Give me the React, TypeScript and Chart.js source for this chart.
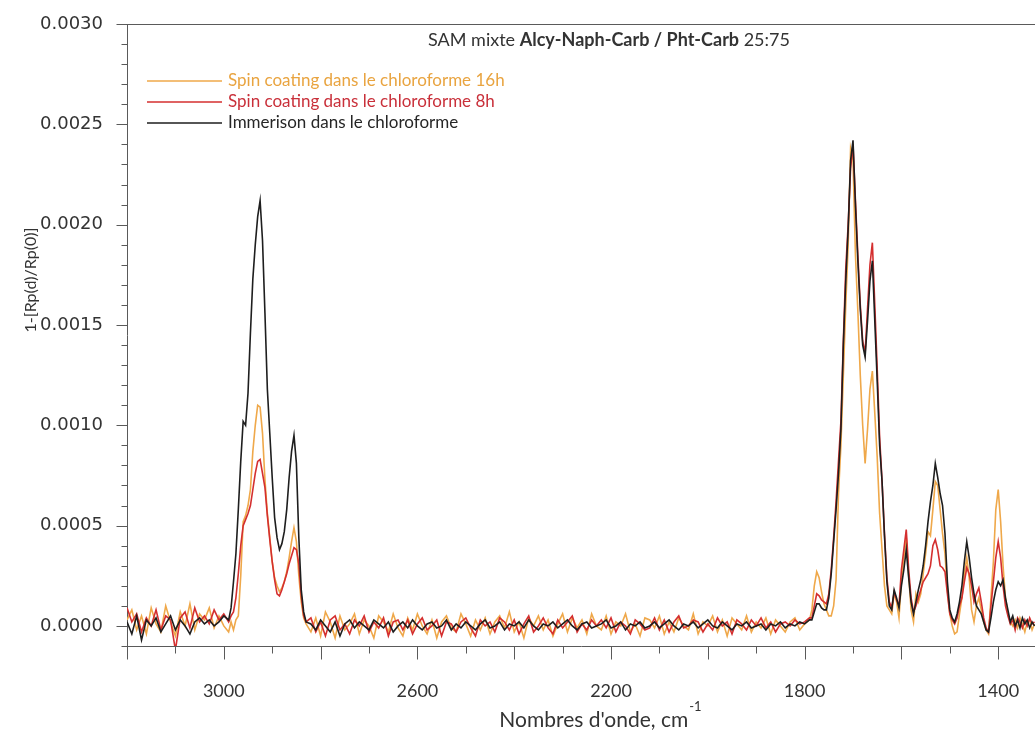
import React, { useEffect, useRef } from "react";
import { Chart, registerables } from "chart.js";

Chart.register(...registerables);

// Wavenumbers (cm-1), shared sampling grid for the three spectra
const wavenumbers = [
  3200, 3190, 3180, 3170, 3160, 3150, 3140, 3130, 3120, 3110, 3100, 3090, 3080, 3070, 3060, 3050, 3040, 3030, 3020, 3010, 3000, 2990,
  2985, 2980, 2975, 2970, 2965, 2960, 2955, 2950, 2945, 2940, 2935, 2930, 2925, 2920, 2915, 2910, 2905, 2900, 2895, 2890,
  2885, 2880, 2875, 2870, 2865, 2860, 2855, 2850, 2845, 2840, 2835, 2830,
  2820, 2810, 2800, 2790, 2780, 2770, 2760, 2750, 2740, 2730,
  2720, 2710, 2700, 2690, 2680, 2670, 2660, 2650, 2640, 2630,
  2620, 2610, 2600, 2590, 2580, 2570, 2560, 2550, 2540, 2530,
  2520, 2510, 2500, 2490, 2480, 2470, 2460, 2450, 2440, 2430,
  2420, 2410, 2400, 2390, 2380, 2370, 2360, 2350, 2340, 2330,
  2320, 2310, 2300, 2290, 2280, 2270, 2260, 2250, 2240, 2230,
  2220, 2210, 2200, 2190, 2180, 2170, 2160, 2150, 2140, 2130,
  2120, 2110, 2100, 2090, 2080, 2070, 2060, 2050, 2040, 2030,
  2020, 2010, 2000, 1990, 1980, 1970, 1960, 1950, 1940, 1930,
  1920, 1910, 1900, 1890, 1880, 1870, 1860, 1850, 1840, 1830,
  1820, 1810, 1800, 1790,
  1785, 1780, 1775, 1770, 1765, 1760, 1755, 1750, 1745, 1740,
  1735, 1730, 1725, 1720, 1715, 1710, 1705, 1700, 1695, 1690,
  1685, 1680, 1675, 1670, 1665, 1660, 1655, 1650, 1645, 1640,
  1635, 1630, 1625, 1620, 1615, 1610, 1605, 1600,
  1595, 1590, 1585, 1580, 1575, 1570, 1565, 1560, 1555, 1550,
  1545, 1540, 1535, 1530, 1525, 1520, 1515, 1510, 1505, 1500,
  1495, 1490, 1485, 1480, 1475, 1470, 1465, 1460, 1455, 1450,
  1445, 1440, 1435, 1430, 1425, 1420, 1415, 1410, 1405, 1400,
  1395, 1390, 1385, 1380, 1375, 1370, 1365, 1360, 1355, 1350,
  1345, 1340, 1335, 1330, 1325,
];

// Values in units of 1e-5 (quantity 1-[Rp(d)/Rp(0)])
const VALUE_UNIT = 1e-5;

const spin16h = [
  3, 8, -2, 5, -4, 9, 1, -3, 10, 2, -5, 7, 0, 11, -2, 6, 3, 9, -1, 5, 0, -3,
  2, -2, 3, 5, 25, 52, 55, 60, 68, 87, 100, 110, 109, 96, 73, 56, 44, 32, 24, 20,
  17, 19, 22, 27, 34, 42, 49, 42, 25, 12, 4, 1,
  -3, 4, -5, 7, 2, -6, 5, -2, 1, 6,
  -4, 3, 0, -6, 5, 2, -3, 6, -1, -5,
  4, -2, 6, 0, -4, 3, -6, 2, 5, -1,
  -3, 6, 1, -5, 3, -2, 4, -4, 2, 5,
  -1, 7, -3, 2, -6, 4, 0, 5, -2, 3,
  -5, 1, 6, -3, 4, -1, 3, -4, 6, 0,
  -2, 5, -4, 2, 0, 6, -3, 1, -5, 4,
  3, -1, 5, -4, 2, -3, 4, 0, -2, 6,
  -4, 2, 0, 5, -3, 3, -5, 4, 1, -2,
  5, -3, 2, -1, 4, -4, 3, 0, -3, 2,
  4, -2, 1, 3,
  8, 20, 27, 24, 17, 11, 8, 5, 5, 10,
  23, 66, 90, 125, 160, 190, 238, 232, 185, 157,
  125, 100, 81, 98, 118, 127, 106, 84, 56, 38,
  20, 10, 8, 6, 16, 12, 4, 22,
  34, 44, 25, 8, 2, 16, 12, 16, 26, 36,
  47, 45, 58, 72, 70, 58, 46, 36, 18, 6,
  0, -4, -3, 6, 14, 26, 34, 24, 8, 2,
  10, 14, 8, 2, -2, -4, 14, 32, 58, 68,
  52, 30, 14, 6, 2, 0, 3, -1, 4, 1,
  -3, 2, 3, -2, 1,
];

const spin8h = [
  9, 2, 6, -3, 4, 0, 8, -2, 5, 3, -12, 4, 7, -1, 9, 2, 5, 1, 8, 3, 6, 2,
  5, 7, 14, 26, 40, 50, 53, 56, 60, 68, 76, 82, 83, 76, 69, 55, 43, 32, 23, 16,
  15, 18, 22, 26, 31, 35, 39, 38, 31, 15, 5, 2,
  4, -3, 2, -5, 3, 5, -2, 1, -4, 3,
  0, 5, -3, 2, -1, 4, -5, 2, 3, -2,
  3, -4, 1, 4, -2, 0, 3, -5, 2, 1,
  -3, 2, 4, -1, -5, 3, 0, 2, -3, 4,
  2, -2, 3, -4, 1, 5, -3, 0, 4, -1,
  -4, 3, -1, 2, 5, -3, 1, -2, 3, 0,
  3, -1, 4, -3, 2, 0, -4, 3, 1, -2,
  -1, 4, -2, 3, -3, 2, 5, -1, 0, 3,
  2, -3, 1, -2, 4, 0, 2, -4, 3, 1,
  -2, 3, 0, 4, -1, 2, -3, 1, 2, 0,
  3, 1, 2, 4,
  4, 10, 16, 15, 13, 12, 11, 16, 28, 44,
  62, 82, 102, 142, 178, 200, 228, 240, 212, 185,
  160, 142, 136, 158, 180, 191, 160, 128, 94, 72,
  46, 24, 12, 9, 17, 13, 10, 28,
  38, 48, 28, 14, 7, 10, 14, 18, 22, 24,
  26, 30, 40, 43, 38, 30, 29, 27, 16, 6,
  3, 1, 4, 10, 14, 22, 29, 26, 20, 12,
  16, 19, 12, 4, -1, -3, 10, 22, 34, 42,
  34, 20, 10, 5, 1, 3, -2, 4, 2, -1,
  3, 0, 4, 1, 2,
];

const immersion = [
  2, -4, 5, -7, 3, 0, 4, -3, 1, 5, -2, 3, 0, -4, 2, 4, 1, 3, 0, 2, 5, 3,
  9, 22, 36, 58, 82, 102, 100, 116, 146, 173, 190, 204, 212, 192, 156, 118, 96, 74, 54, 44,
  38, 41, 47, 58, 74, 87, 95, 81, 44, 18, 7, 2,
  1, -2, 3, 0, -3, 2, -5, 1, 3, -1,
  2, 0, -2, 3, 1, -1, 2, -3, 0, 2,
  -1, 3, 0, -2, 1, 2, -1, 0, 3, -2,
  1, -1, 2, 0, -2, 1, 3, -1, 0, 2,
  -2, 1, 0, 2, -1, 3, 0, -2, 1, 0,
  2, -1, 1, 3, 0, -2, 1, 2, -1, 0,
  1, 3, -1, 0, 2, -2, 1, 0, 2, -1,
  0, 2, -1, 1, 3, 0, -2, 1, 0, 2,
  -1, 1, 3, 0, -1, 2, 0, -2, 1, 0,
  2, -1, 0, 1, -2, 1, 0, 2, -1, 1,
  0, 2, 1, 3,
  3, 7, 11, 11, 9, 8, 8, 14, 26, 42,
  58, 76, 98, 140, 172, 198, 232, 242, 210, 182,
  158, 140, 134, 152, 172, 182, 152, 122, 90, 72,
  45, 22, 10, 8, 18, 14, 9, 20,
  28, 38, 24, 12, 6, 12, 18, 23, 30, 40,
  52, 62, 70, 81, 74, 66, 60, 46, 22, 8,
  4, 2, 6, 12, 20, 32, 42, 34, 24, 16,
  10, 8, 6, 2, -2, -3, 4, 12, 18, 22,
  20, 23, 14, 8, 2, 5, 0, 3, -1, 4,
  1, 3, -1, 2, 0,
];

const seriesLabels = [
  "Spin coating dans le chloroforme 16h",
  "Spin coating dans le chloroforme 8h",
  "Immerison dans le chloroforme",
];
const seriesColors = ["#efa84a", "#d42f2f", "#1e1e1e"];
const legendTextColors = ["#e9a440", "#c9303a", "#262626"];

const yLabelTicks = [0, 0.0005, 0.001, 0.0015, 0.002, 0.0025, 0.003];
const yMinorTicks = [
  -0.0001, 0.0001, 0.0002, 0.0003, 0.0004, 0.0006, 0.0007, 0.0008, 0.0009,
  0.0011, 0.0012, 0.0013, 0.0014, 0.0016, 0.0017, 0.0018, 0.0019,
  0.0021, 0.0022, 0.0023, 0.0024, 0.0026, 0.0027, 0.0028, 0.0029,
];
const xLabelTicks = [3000, 2600, 2200, 1800, 1400];
const xMajorTicks = [3200, 3000, 2800, 2600, 2400, 2200, 2000, 1800, 1600, 1400];
const xMinorTicks = [3100, 2900, 2700, 2500, 2300, 2100, 1900, 1700, 1500];

const X_MIN = 1324;
const X_MAX = 3200;
const Y_MIN = -0.0001;
const Y_MAX = 0.003;

const AXIS_COLOR = "#5a5a5a";
const TEXT_COLOR = "#333333";
const TEXT_FONT = "Lato, 'Open Sans', sans-serif";

const decorPlugin = {
  id: "decor",
  afterDraw(chart: any) {
    const ctx = chart.ctx as CanvasRenderingContext2D;
    const xs = chart.scales.x;
    const ys = chart.scales.y;
    const area = chart.chartArea;
    ctx.save();
    ctx.strokeStyle = AXIS_COLOR;
    ctx.lineWidth = 1;
    // top frame line
    ctx.beginPath();
    ctx.moveTo(area.left, Math.round(area.top) + 0.5);
    ctx.lineTo(area.right, Math.round(area.top) + 0.5);
    ctx.stroke();
    // y ticks
    const lx = Math.round(area.left) + 0.5;
    yLabelTicks.forEach((v) => {
      const py = Math.round(ys.getPixelForValue(v)) + 0.5;
      ctx.beginPath();
      ctx.moveTo(lx - 11, py);
      ctx.lineTo(lx, py);
      ctx.stroke();
    });
    yMinorTicks.forEach((v) => {
      const py = Math.round(ys.getPixelForValue(v)) + 0.5;
      ctx.beginPath();
      ctx.moveTo(lx - 6, py);
      ctx.lineTo(lx, py);
      ctx.stroke();
    });
    // x ticks
    const by = Math.round(area.bottom) + 0.5;
    xMajorTicks.forEach((v) => {
      const px = Math.round(xs.getPixelForValue(v)) + 0.5;
      ctx.beginPath();
      ctx.moveTo(px, by);
      ctx.lineTo(px, by + 13);
      ctx.stroke();
    });
    xMinorTicks.forEach((v) => {
      const px = Math.round(xs.getPixelForValue(v)) + 0.5;
      ctx.beginPath();
      ctx.moveTo(px, by);
      ctx.lineTo(px, by + 7);
      ctx.stroke();
    });

    // Title with bold part
    const titleParts: [string, string][] = [
      ["SAM mixte ", "400"],
      ["Alcy-Naph-Carb / Pht-Carb", "700"],
      [" 25:75", "400"],
    ];
    const titleSize = 18;
    ctx.textBaseline = "middle";
    ctx.textAlign = "left";
    let total = 0;
    titleParts.forEach(([t, w]) => {
      ctx.font = `${w} ${titleSize}px ${TEXT_FONT}`;
      total += ctx.measureText(t).width;
    });
    let tx = 609 - total / 2;
    ctx.fillStyle = TEXT_COLOR;
    titleParts.forEach(([t, w]) => {
      ctx.font = `${w} ${titleSize}px ${TEXT_FONT}`;
      ctx.fillText(t, tx, 40);
      tx += ctx.measureText(t).width;
    });

    // Legend
    const rows = [81, 102, 123];
    ctx.font = `400 17px ${TEXT_FONT}`;
    seriesLabels.forEach((label, i) => {
      ctx.strokeStyle = seriesColors[i];
      ctx.lineWidth = 1.5;
      ctx.beginPath();
      ctx.moveTo(147, rows[i]);
      ctx.lineTo(222, rows[i]);
      ctx.stroke();
      ctx.fillStyle = legendTextColors[i];
      ctx.fillText(label, 228, rows[i]);
    });

    // X axis title with superscript
    ctx.fillStyle = TEXT_COLOR;
    ctx.font = `400 21px ${TEXT_FONT}`;
    const main = "Nombres d'onde, cm";
    const mw = ctx.measureText(main).width;
    ctx.font = `400 13px ${TEXT_FONT}`;
    const sup = "-1";
    const sw = ctx.measureText(sup).width;
    const startX = 600 - (mw + sw) / 2;
    ctx.font = `400 21px ${TEXT_FONT}`;
    ctx.fillText(main, startX, 720);
    ctx.font = `400 13px ${TEXT_FONT}`;
    ctx.fillText(sup, startX + mw + 1, 707);

    // Y axis title (rotated)
    ctx.save();
    ctx.translate(31, 280);
    ctx.rotate(-Math.PI / 2);
    ctx.textAlign = "center";
    ctx.font = `400 16px ${TEXT_FONT}`;
    ctx.fillText("1-[Rp(d)/Rp(0)]", 0, 0);
    ctx.restore();

    ctx.restore();
  },
};

export default function App() {
  const canvasRef = useRef<HTMLCanvasElement | null>(null);

  useEffect(() => {
    if (!canvasRef.current) return;
    const series = [spin16h, spin8h, immersion];
    const datasets = series.map((vals, i) => ({
      label: seriesLabels[i],
      data: wavenumbers.map((wn, k) => ({ x: wn, y: vals[k] * VALUE_UNIT })),
      borderColor: seriesColors[i],
      backgroundColor: seriesColors[i],
      borderWidth: 1.6,
      pointRadius: 0,
      tension: 0,
      fill: false,
      order: 2 - i,
    }));

    const chart = new Chart(canvasRef.current, {
      type: "line",
      data: { datasets },
      options: {
        animation: false,
        responsive: false,
        devicePixelRatio: 1,
        layout: { padding: { top: 24, right: 0, left: 0, bottom: 0 } },
        plugins: {
          legend: { display: false },
          title: { display: false },
          tooltip: { enabled: false },
        },
        scales: {
          x: {
            type: "linear",
            reverse: true,
            min: X_MIN,
            max: X_MAX,
            grid: { display: false, drawTicks: false },
            border: { display: true, color: AXIS_COLOR, width: 1 },
            afterFit: (s: any) => {
              s.height = 94;
              s.paddingLeft = 0;
              s.paddingRight = 0;
            },
            afterBuildTicks: (s: any) => {
              s.ticks = xLabelTicks.map((v) => ({ value: v }));
            },
            ticks: {
              padding: 34,
              autoSkip: false,
              maxRotation: 0,
              color: TEXT_COLOR,
              font: { family: TEXT_FONT, size: 18 },
              callback: (v: any) => String(v),
            },
          },
          y: {
            type: "linear",
            min: Y_MIN,
            max: Y_MAX,
            grid: { display: false, drawTicks: false },
            border: { display: true, color: AXIS_COLOR, width: 1 },
            afterFit: (s: any) => {
              s.width = 127;
              s.paddingTop = 0;
              s.paddingBottom = 0;
            },
            afterBuildTicks: (s: any) => {
              s.ticks = yLabelTicks.map((v) => ({ value: v }));
            },
            ticks: {
              padding: 24,
              color: TEXT_COLOR,
              font: { family: "'DejaVu Sans', sans-serif", size: 18 },
              callback: (v: any) => Number(v).toFixed(4),
            },
          },
        },
      },
      plugins: [decorPlugin],
    });
    return () => chart.destroy();
  }, []);

  return (
    <div
      style={{
        position: "absolute",
        left: 0,
        top: 0,
        width: 1035,
        height: 740,
        overflow: "hidden",
        background: "#fff",
      }}
    >
      <canvas ref={canvasRef} width={1035} height={740} style={{ display: "block" }} />
    </div>
  );
}
